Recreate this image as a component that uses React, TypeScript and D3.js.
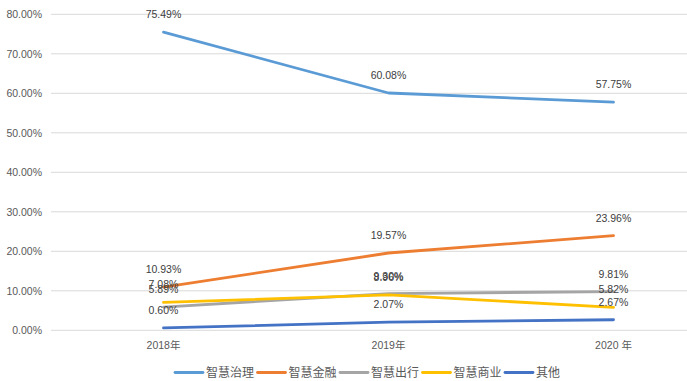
import React from "react";
import * as d3 from "d3";

const categories = ["2018年", "2019年", "2020 年"];
const seriesNames = ["智慧治理", "智慧金融", "智慧出行", "智慧商业", "其他"];
const seriesColors = ["#5B9BD5", "#ED7D31", "#A5A5A5", "#FFC000", "#4472C4"];
const governance = [75.49, 60.08, 57.75];
const finance = [10.93, 19.57, 23.96];
const mobility = [5.89, 9.3, 9.81];
const commerce = [7.08, 8.96, 5.82];
const others = [0.6, 2.07, 2.67];
const seriesValues = [governance, finance, mobility, commerce, others];
const yTicks = [0, 10, 20, 30, 40, 50, 60, 70, 80];

const W = 687;
const H = 381;
const FONT = "'Liberation Sans', 'Noto Sans CJK SC', sans-serif";

export default function App() {
  const x = d3.scaleBand<string>().domain(categories).range([51, 726]);
  const y = d3.scaleLinear().domain([0, 80]).range([330.3, 14.3]);
  const cx = (c: string) => (x(c) as number) + x.bandwidth() / 2;
  const line = d3
    .line<number>()
    .x((_, i) => cx(categories[i]))
    .y((v) => y(v));

  const legendStart = 175;
  const legendStride = 82.5;

  return (
    <svg
      width={W}
      height={H}
      style={{ position: "absolute", left: 0, top: 0, background: "#fff" }}
      fontFamily={FONT}
    >
      <rect x={0} y={0} width={W} height={H} fill="#fff" />
      {yTicks.map((t) => (
        <g key={t}>
          <line x1={51} x2={W} y1={y(t)} y2={y(t)} stroke="#D9D9D9" strokeWidth={1} />
          <text
            x={42}
            y={y(t) + 4}
            textAnchor="end"
            fontSize={10.5}
            fill="#595959"
          >
            {t.toFixed(2) + "%"}
          </text>
        </g>
      ))}
      {categories.map((c) => (
        <text key={c} x={cx(c)} y={349} textAnchor="middle" fontSize={10.5} fill="#595959">
          {c}
        </text>
      ))}
      {seriesValues.map((vals, si) => (
        <path
          key={seriesNames[si]}
          d={line(vals) as string}
          fill="none"
          stroke={seriesColors[si]}
          strokeWidth={2.8}
          strokeLinejoin="round"
          strokeLinecap="round"
        />
      ))}
      {seriesValues.map((vals, si) =>
        vals.map((v, i) => (
          <text
            key={seriesNames[si] + i}
            x={cx(categories[i])}
            y={y(v) - 14}
            textAnchor="middle"
            fontSize={10.5}
            fill="#404040"
          >
            {v.toFixed(2) + "%"}
          </text>
        ))
      )}
      {seriesNames.map((n, i) => {
        const lx = legendStart + i * legendStride;
        return (
          <g key={n}>
            <line
              x1={lx}
              x2={lx + 28}
              y1={372.5}
              y2={372.5}
              stroke={seriesColors[i]}
              strokeWidth={2.8}
              strokeLinecap="round"
            />
            <text x={lx + 31} y={377} fontSize={12} fill="#595959" fontFamily="'Noto Sans CJK SC', sans-serif">
              {n}
            </text>
          </g>
        );
      })}
    </svg>
  );
}
